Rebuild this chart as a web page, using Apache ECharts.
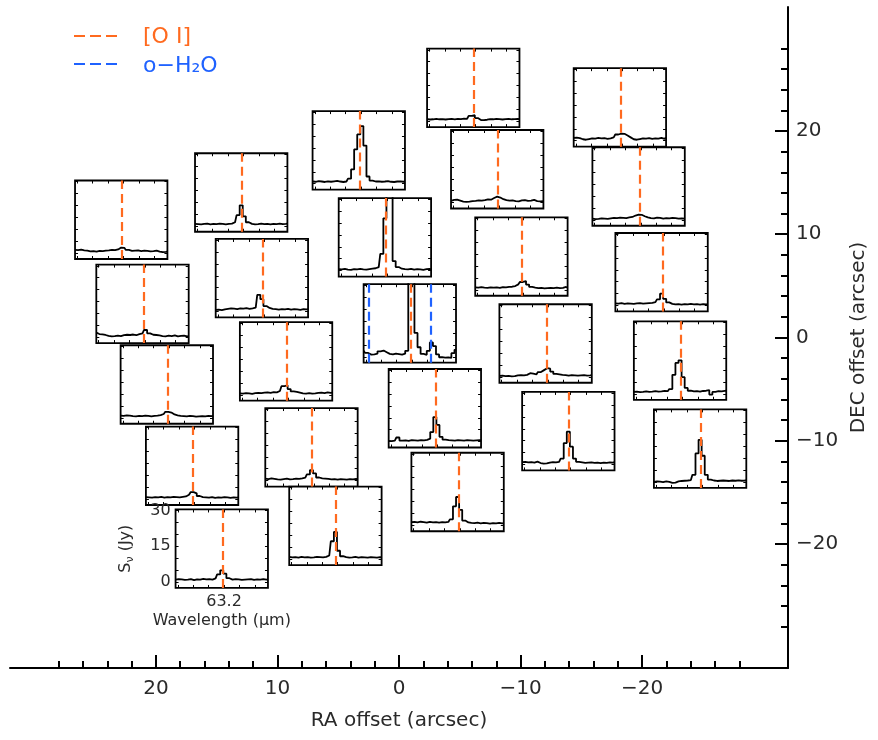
<!DOCTYPE html>
<html>
<head>
<meta charset="utf-8">
<script src="https://cdn.jsdelivr.net/npm/echarts@6/dist/echarts.min.js"></script>
<style>html,body{margin:0;padding:0;background:#fff}#chart{width:878px;height:740px}</style>
</head>
<body>
<div id="chart"></div>
<script>
// ---------------- DATA ----------------
// spaxel positions (arcsec)
const raOffsets  = [-6.11, -18.17, 3.31, -8.08, 12.98, -19.71, 22.85, 1.16, -10.07, -21.60, 11.28, 21.10, -0.89, 9.29, -12.06, -23.12, 19.10, -2.95, -13.93, 7.20, -24.77, 17.02, -4.82, 5.23, 14.58];
const decOffsets = [24.17, 22.28, 18.12, 16.29, 14.04, 14.62, 11.40, 9.70, 7.84, 6.32, 5.74, 3.26, 1.36, -2.32, -0.58, -2.23, -4.55, -6.85, -9.07, -10.63, -10.76, -12.42, -14.96, -18.23, -20.45];

// wavelength grid (micron)
const wavelengths = [62.885, 62.905, 62.925, 62.945, 62.965, 62.985, 63.005, 63.025, 63.045, 63.065, 63.085, 63.105, 63.125, 63.145, 63.165, 63.185, 63.205, 63.225, 63.245, 63.265, 63.285, 63.305, 63.325, 63.345, 63.365, 63.385, 63.405, 63.425, 63.445, 63.465, 63.485];

// line wavelengths
const oiLine = 63.185;
const waterLines = [62.924, 63.324];

// spectra (Jy)
const spec01 = [0.9,0.7,0.8,1.0,0.8,0.9,0.7,0.9,1.0,0.8,1.0,0.9,1.1,1.0,2.2,2.5,1.3,0.5,0.4,0.6,0.9,0.8,1.0,0.9,0.7,0.9,1.0,0.8,0.9,1.0,0.9];
const spec02 = [1.2,1.3,1.1,0.6,0.4,0.7,1.0,0.9,1.2,1.0,1.1,0.8,1.0,1.4,2.6,3.0,2.9,2.2,1.4,0.6,0.4,0.7,1.0,0.9,1.1,0.8,1.0,0.9,1.2,0.8,1.3];
const spec03 = [0.9,0.8,1.1,0.9,0.7,1.0,0.8,1.0,1.2,0.9,0.7,0.9,2.1,6.0,14.4,20.7,24.2,16.0,3.0,1.3,0.9,1.0,0.8,0.9,1.1,0.8,0.7,0.9,1.0,0.8,0.9];
const spec04 = [0.7,1.1,1.2,0.8,0.4,0.3,0.4,0.6,0.7,0.9,0.8,1.0,1.3,1.2,1.9,2.5,2.1,1.4,1.0,0.8,0.9,0.6,0.5,0.9,1.0,0.7,0.8,1.1,0.6,0.5,0.6];
const spec05 = [0.8,0.7,0.6,0.8,0.9,0.6,0.8,0.7,0.9,0.8,0.6,0.8,0.9,1.5,4.5,8.6,4.0,1.5,0.8,0.6,0.7,0.9,0.7,0.8,0.6,0.8,0.7,0.9,0.7,0.8,0.9];
const spec06 = [0.5,0.3,0.4,0.6,0.5,0.4,0.6,0.8,0.7,0.9,0.8,0.7,1.0,1.2,1.8,2.2,2.1,1.5,1.0,0.7,0.6,0.9,0.8,0.5,0.7,0.6,0.8,0.7,0.5,0.6,0.5];
const spec07 = [1.3,1.2,1.4,1.1,1.0,0.7,0.8,0.6,0.9,0.8,1.0,1.1,1.3,1.2,1.5,2.3,2.2,1.3,0.9,1.0,1.1,0.8,1.0,0.9,0.7,0.8,1.0,0.6,0.4,0.5,0.6];
const spec08 = [0.6,0.5,0.7,0.4,0.3,0.6,0.5,0.7,0.5,0.4,0.6,0.8,1.0,1.5,7.0,22.0,45.0,33.0,4.0,1.5,0.8,0.6,0.5,0.7,0.4,0.6,0.5,0.3,0.6,0.7,0.5];
const spec09 = [1.0,0.9,1.1,0.9,0.8,1.0,0.9,1.0,0.8,1.1,1.0,1.2,1.3,1.6,2.3,3.3,3.7,2.2,1.2,0.9,0.7,0.8,0.6,0.7,0.8,0.7,0.9,0.7,0.8,1.2,0.9];
const spec10 = [0.9,0.8,1.0,0.7,0.9,0.8,0.7,0.9,1.0,0.8,0.9,1.0,1.1,1.4,2.6,5.0,2.8,1.3,0.7,0.5,0.6,0.4,0.6,0.5,0.7,0.5,0.6,0.4,0.6,0.5,0.6];
const spec11 = [0.7,0.8,0.6,0.9,1.1,1.3,1.2,1.0,1.3,1.2,1.4,1.1,1.3,1.6,7.0,5.2,2.3,1.5,1.1,1.0,0.8,1.0,0.9,1.1,0.8,1.0,0.9,0.7,1.0,0.9,1.0];
const spec12 = [1.9,1.3,1.2,0.9,0.5,0.3,0.4,0.6,0.4,0.8,1.0,0.9,1.1,0.8,1.3,1.6,3.0,1.6,1.0,0.9,0.7,0.4,0.3,0.6,0.4,0.7,0.3,0.5,0.6,0.3,0.4];
const spec13 = [2.5,1.6,0.9,1.0,1.3,2.3,2.6,1.9,1.2,1.0,1.3,1.1,0.9,1.3,2.5,45.0,45.0,10.0,4.0,1.2,0.8,2.5,6.0,4.5,1.0,-0.2,-0.4,-0.3,-0.5,1.5,2.9];
const spec14 = [0.6,0.5,0.7,0.6,0.4,0.7,0.8,0.7,0.9,1.0,0.8,1.1,1.0,1.6,3.6,4.0,2.4,1.4,1.2,0.9,0.6,0.5,0.7,0.5,0.6,0.8,0.9,0.7,1.0,0.8,0.9];
const spec15 = [0.4,0.5,0.3,0.4,0.2,0.3,0.6,0.7,0.6,0.8,1.5,1.3,1.0,2.0,2.8,3.6,3.4,2.2,1.2,1.0,0.8,0.7,0.5,0.7,0.6,0.5,0.6,0.7,0.5,0.6,0.7];
const spec16 = [0.8,0.9,0.7,0.8,1.0,0.8,0.9,1.1,0.9,1.0,1.2,1.1,2.0,8.0,13.0,14.1,7.0,2.5,1.3,1.0,1.1,0.9,1.2,1.3,1.6,-0.3,0.8,1.1,1.0,1.2,1.3];
const spec17 = [0.9,0.8,1.0,0.9,0.7,0.6,0.8,0.7,0.9,0.8,0.6,0.8,0.9,1.1,1.6,2.5,2.2,1.4,1.0,0.8,0.7,0.6,0.8,0.7,0.5,0.6,0.7,0.6,0.8,0.7,0.8];
const spec18 = [0.3,0.2,0.4,1.7,0.4,0.5,0.3,0.6,0.5,0.4,0.6,0.5,0.7,1.2,4.0,10.3,7.0,2.0,0.8,0.6,0.5,0.4,0.6,0.5,0.4,0.6,0.5,0.4,0.5,0.6,0.5];
const spec19 = [1.0,1.1,0.9,1.0,0.8,1.2,0.6,0.4,0.5,0.8,1.0,0.9,1.1,2.5,9.0,13.8,7.5,2.5,1.1,0.9,0.7,0.8,0.9,0.7,0.8,0.6,0.8,0.7,0.9,0.8,1.0];
const spec20 = [0.8,0.6,0.9,0.7,0.5,0.4,0.6,0.8,0.5,0.6,0.8,0.7,0.9,1.2,2.6,4.4,3.0,1.3,0.9,0.8,0.7,0.5,0.6,0.4,0.6,0.5,0.4,0.6,0.5,0.7,0.6];
const spec21 = [0.0,0.2,0.1,-0.1,0.2,0.0,-0.4,-0.3,0.2,0.4,0.5,0.6,0.8,3.0,12.0,17.7,11.0,3.0,1.0,0.6,0.4,0.5,0.6,0.5,0.4,0.6,0.5,0.7,0.5,0.6,0.7];
const spec22 = [0.8,0.7,0.6,0.8,0.7,0.9,0.6,0.8,0.7,0.9,0.8,0.7,0.9,1.1,1.8,2.9,2.4,1.3,0.8,0.7,0.6,0.8,0.5,0.7,0.6,0.8,0.7,0.5,0.7,0.6,0.7];
const spec23 = [1.3,1.4,1.2,1.5,1.3,1.1,1.4,1.2,1.3,1.1,1.3,1.2,1.4,2.5,8.0,11.9,6.5,2.0,1.2,1.0,0.9,1.1,0.8,1.0,0.9,0.7,0.9,0.8,1.0,0.8,0.9];
const spec24 = [0.9,0.7,0.8,0.6,0.9,0.7,0.8,0.6,0.7,0.9,0.8,0.7,0.9,1.5,7.5,11.4,3.5,1.2,0.8,0.6,0.7,0.9,0.6,0.8,0.7,0.6,0.8,0.7,0.6,0.8,0.7];
const spec25 = [1.0,1.2,1.1,0.9,1.0,1.2,0.8,1.1,1.0,1.3,1.1,1.2,1.0,1.5,3.2,4.9,3.5,1.6,1.0,1.2,1.1,0.9,1.0,1.1,1.2,0.9,1.1,1.0,1.2,1.0,1.1];
const spectra = [spec01,spec02,spec03,spec04,spec05,spec06,spec07,spec08,spec09,spec10,spec11,spec12,spec13,spec14,spec15,spec16,spec17,spec18,spec19,spec20,spec21,spec22,spec23,spec24,spec25];

// tick values
const offsetMajorTicks = [-20, -10, 0, 10, 20];
const offsetMinorTicks = [-28,-26,-24,-22,-18,-16,-14,-12,-8,-6,-4,-2,2,4,6,8,12,14,16,18,22,24,26,28];
const waveTicks = [62.9, 63.0, 63.1, 63.2, 63.3, 63.4];
const waveLabels = [63.2];
const fluxTicks = [0, 5, 10, 15, 20, 25, 30];
const fluxLabels = [0, 15, 30];

// ---------------- LAYOUT / STYLE ----------------
const OFFSET_MIN = -32, OFFSET_MAX = 32;
const FLUX_MIN = -2.5, FLUX_MAX = 30.5;
const PANEL_SIZE = 7.6;          // arcsec
const LABELED_PANEL = 24;
const WATER_PANEL = 12;
const FONT = 'DejaVu Sans';
const ORANGE = '#ff6a1f';
const BLUE = '#1f62ff';
const TEXT = '#2a2a2a';
const fmtMinus = v => (v < 0 ? '\u2212' + Math.abs(v) : String(v));

const chart = echarts.init(document.getElementById('chart'), null, {renderer: 'canvas'});

const mainGrid = {left: 10, right: 90, top: 7, bottom: 72, show: false};
const mainXAxes = [
  {gridIndex: 0, type: 'value', min: OFFSET_MIN, max: OFFSET_MAX, inverse: true, position: 'bottom',
   axisLine: {show: true, onZero: false, lineStyle: {color: '#000', width: 2}},
   axisTick: {show: true, inside: true, length: 13, lineStyle: {color: '#000', width: 2}, customValues: offsetMajorTicks},
   axisLabel: {show: true, customValues: offsetMajorTicks, formatter: fmtMinus, margin: 11, fontSize: 20, fontFamily: FONT, color: TEXT},
   splitLine: {show: false},
   name: 'RA offset (arcsec)', nameLocation: 'middle', nameGap: 43,
   nameTextStyle: {fontSize: 20, fontFamily: FONT, color: TEXT}},
  {gridIndex: 0, type: 'value', min: OFFSET_MIN, max: OFFSET_MAX, inverse: true, position: 'bottom',
   axisLine: {show: false, onZero: false},
   axisTick: {show: true, inside: true, length: 7, lineStyle: {color: '#000', width: 2}, customValues: offsetMinorTicks},
   axisLabel: {show: false}, splitLine: {show: false}}
];
const mainYAxes = [
  {gridIndex: 0, type: 'value', min: OFFSET_MIN, max: OFFSET_MAX, position: 'right',
   axisLine: {show: true, onZero: false, lineStyle: {color: '#000', width: 2}},
   axisTick: {show: true, inside: true, length: 13, lineStyle: {color: '#000', width: 2}, customValues: offsetMajorTicks},
   axisLabel: {show: true, customValues: offsetMajorTicks, formatter: fmtMinus, margin: 8, fontSize: 20, fontFamily: FONT, color: TEXT},
   splitLine: {show: false},
   name: 'DEC offset (arcsec)', nameLocation: 'middle', nameGap: 57,
   nameTextStyle: {fontSize: 20, fontFamily: FONT, color: TEXT}},
  {gridIndex: 0, type: 'value', min: OFFSET_MIN, max: OFFSET_MAX, position: 'right',
   axisLine: {show: false, onZero: false},
   axisTick: {show: true, inside: true, length: 7, lineStyle: {color: '#000', width: 2}, customValues: offsetMinorTicks},
   axisLabel: {show: false}, splitLine: {show: false}}
];

chart.setOption({animation: false, grid: [mainGrid], xAxis: mainXAxes, yAxis: mainYAxes, series: []});

const px = v => chart.convertToPixel({xAxisIndex: 0}, v);
const py = v => chart.convertToPixel({yAxisIndex: 0}, v);

const grids = [mainGrid];
const xAxes = mainXAxes.slice();
const yAxes = mainYAxes.slice();
const series = [];
const wMin = wavelengths[0], wMax = wavelengths[wavelengths.length - 1];
const tickLine = {color: '#000', width: 1};
const noLine = {show: false, onZero: false};

spectra.forEach((spec, i) => {
  const gi = i + 1;
  const xa = px(raOffsets[i] + PANEL_SIZE / 2), xb = px(raOffsets[i] - PANEL_SIZE / 2);
  const ya = py(decOffsets[i] + PANEL_SIZE / 2), yb = py(decOffsets[i] - PANEL_SIZE / 2);
  grids.push({left: Math.min(xa, xb), top: Math.min(ya, yb), width: Math.abs(xb - xa), height: Math.abs(yb - ya),
    show: true, backgroundColor: '#fff', borderColor: '#000', borderWidth: 1.8});
  const labeled = i === LABELED_PANEL;
  const xi = xAxes.length, yi = yAxes.length;
  xAxes.push({gridIndex: gi, type: 'value', min: wMin, max: wMax, position: 'bottom',
    axisLine: noLine, splitLine: {show: false},
    axisTick: {show: true, inside: true, length: 3, lineStyle: tickLine, customValues: waveTicks},
    axisLabel: {show: labeled, customValues: waveLabels, formatter: v => v.toFixed(1), margin: 6, fontSize: 16, fontFamily: FONT, color: TEXT},
    name: labeled ? 'Wavelength (\u03bcm)' : '', nameLocation: 'middle', nameGap: 25,
    nameTextStyle: {fontSize: 16, fontFamily: FONT, color: TEXT}});
  xAxes.push({gridIndex: gi, type: 'value', min: wMin, max: wMax, position: 'top',
    axisLine: noLine, splitLine: {show: false}, axisLabel: {show: false},
    axisTick: {show: true, inside: true, length: 3, lineStyle: tickLine, customValues: waveTicks}});
  yAxes.push({gridIndex: gi, type: 'value', min: FLUX_MIN, max: FLUX_MAX, position: 'left',
    axisLine: noLine, splitLine: {show: false},
    axisTick: {show: true, inside: true, length: 3, lineStyle: tickLine, customValues: fluxTicks},
    axisLabel: {show: labeled, customValues: fluxLabels, margin: 5, fontSize: 16, fontFamily: FONT, color: TEXT},
    name: labeled ? '{b|S}{s|\u03bd}{b| (Jy)}' : '', nameLocation: 'middle', nameGap: 40,
    nameTextStyle: {color: TEXT, rich: {
      b: {fontSize: 16, fontFamily: FONT, color: TEXT, lineHeight: 20, verticalAlign: 'middle'},
      s: {fontSize: 11, fontFamily: FONT, color: TEXT, lineHeight: 20, verticalAlign: 'bottom'}}}});
  yAxes.push({gridIndex: gi, type: 'value', min: FLUX_MIN, max: FLUX_MAX, position: 'right',
    axisLine: noLine, splitLine: {show: false}, axisLabel: {show: false},
    axisTick: {show: true, inside: true, length: 3, lineStyle: tickLine, customValues: fluxTicks}});

  const marks = [{xAxis: oiLine, lineStyle: {color: ORANGE}}];
  if (i === WATER_PANEL) waterLines.forEach(w => marks.push({xAxis: w, lineStyle: {color: BLUE}}));

  series.push({type: 'line', xAxisIndex: xi, yAxisIndex: yi,
    data: wavelengths.map((w, k) => [w, spec[k]]),
    step: 'middle', showSymbol: false, symbol: 'none', clip: true, silent: true, z: 3,
    lineStyle: {color: '#000', width: 1.8},
    markLine: {silent: true, symbol: ['none', 'none'], label: {show: false}, animation: false,
      lineStyle: {type: [9, 5], width: 2.2, color: ORANGE}, data: marks}});
});

chart.setOption({
  animation: false,
  backgroundColor: '#fff',
  grid: grids, xAxis: xAxes, yAxis: yAxes, series: series,
  graphic: [
    {type: 'line', shape: {x1: 74, y1: 36, x2: 121, y2: 36}, style: {stroke: ORANGE, lineWidth: 2, lineDash: [11, 5]}},
    {type: 'text', x: 143, y: 37, style: {text: '[O I]', fill: ORANGE, fontSize: 22, fontFamily: FONT, verticalAlign: 'middle'}},
    {type: 'line', shape: {x1: 74, y1: 64, x2: 121, y2: 64}, style: {stroke: BLUE, lineWidth: 2, lineDash: [11, 5]}},
    {type: 'text', x: 143, y: 66, style: {text: 'o\u2212H\u2082O', fill: BLUE, fontSize: 22, fontFamily: FONT, verticalAlign: 'middle'}}
  ]
}, true);
</script>
</body>
</html>
